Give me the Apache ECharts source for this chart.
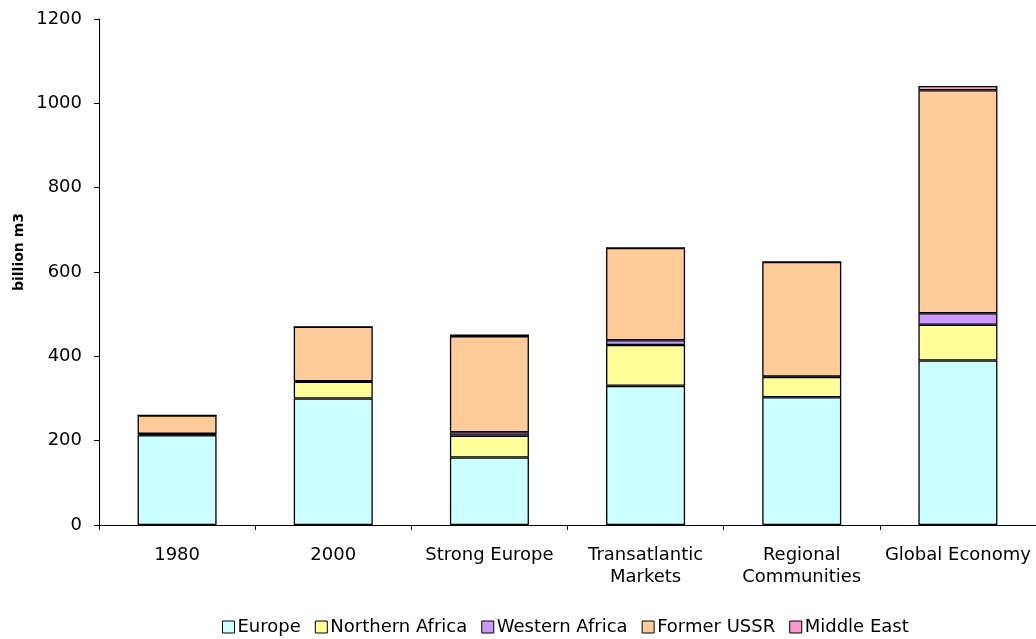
<!DOCTYPE html>
<html>
<head>
<meta charset="utf-8">
<script src="https://cdn.jsdelivr.net/npm/echarts@6/dist/echarts.min.js"></script>
<style>
  html, body { margin: 0; padding: 0; background: #fff; }
  #chart { width: 1036px; height: 639px; }
</style>
</head>
<body>
<div id="chart"></div>
<script>
// Gas supply by source region, billion m3
const categories = ['1980', '2000', 'Strong Europe', 'Transatlantic\nMarkets', 'Regional\nCommunities', 'Global Economy'];
const europe = [213, 300, 160, 330, 303, 390];
const northernAfrica = [2, 40, 52, 97, 48, 85];
const westernAfrica = [1, 1, 8, 11, 1, 27];
const formerUSSR = [44, 129, 228, 219, 272, 529];
const middleEast = [0, 0, 4, 0, 0, 10];
const yTicks = { min: 0, max: 1200, interval: 200 };

const seriesDefs = [
  { name: 'Europe', data: europe, color: '#CCFFFF' },
  { name: 'Northern Africa', data: northernAfrica, color: '#FFFF99' },
  { name: 'Western Africa', data: westernAfrica, color: '#CC99FF' },
  { name: 'Former USSR', data: formerUSSR, color: '#FFCC99' },
  { name: 'Middle East', data: middleEast, color: '#FF99CC' }
];

const FONT = 'DejaVu Sans, Arial, sans-serif';

const chart = echarts.init(document.getElementById('chart'));
chart.setOption({
  animation: false,
  textStyle: { fontFamily: FONT, color: '#000' },
  grid: { left: 99, right: 0, top: 19, bottom: 114, containLabel: false },
  legend: {
    top: 613,
    left: 217,
    itemWidth: 12,
    itemHeight: 12,
    itemGap: 14,
    icon: 'rect',
    textStyle: { fontFamily: FONT, fontSize: 18, color: '#000', padding: [0, 0, 0, -2] },
    itemStyle: { borderColor: '#000', borderWidth: 1 },
    data: seriesDefs.map(s => s.name)
  },
  graphic: [{
    type: 'text',
    left: 12,
    top: 213,
    rotation: Math.PI / 2,
    style: { text: 'billion m3', font: 'bold 14px ' + FONT, fill: '#000' }
  }],
  xAxis: {
    type: 'category',
    data: categories,
    axisLine: { lineStyle: { color: '#000', width: 1 } },
    axisTick: { show: true, alignWithLabel: false, length: 5, lineStyle: { color: '#000' } },
    axisLabel: { fontFamily: FONT, fontSize: 18, color: '#000', margin: 19, lineHeight: 22, interval: 0 }
  },
  yAxis: {
    type: 'value',
    min: yTicks.min,
    max: yTicks.max,
    interval: yTicks.interval,
    axisLine: { show: true, lineStyle: { color: '#000', width: 1 } },
    axisTick: { show: true, length: 5, lineStyle: { color: '#000' } },
    splitLine: { show: false },
    axisLabel: { fontFamily: FONT, fontSize: 18, color: '#000', margin: 17, formatter: v => String(v) }
  },
  series: seriesDefs.map(s => ({
    name: s.name,
    type: 'bar',
    stack: 'total',
    barWidth: '50.6%',
    data: s.data,
    itemStyle: { color: s.color, borderColor: '#000', borderWidth: 1.3 }
  }))
});
</script>
</body>
</html>
